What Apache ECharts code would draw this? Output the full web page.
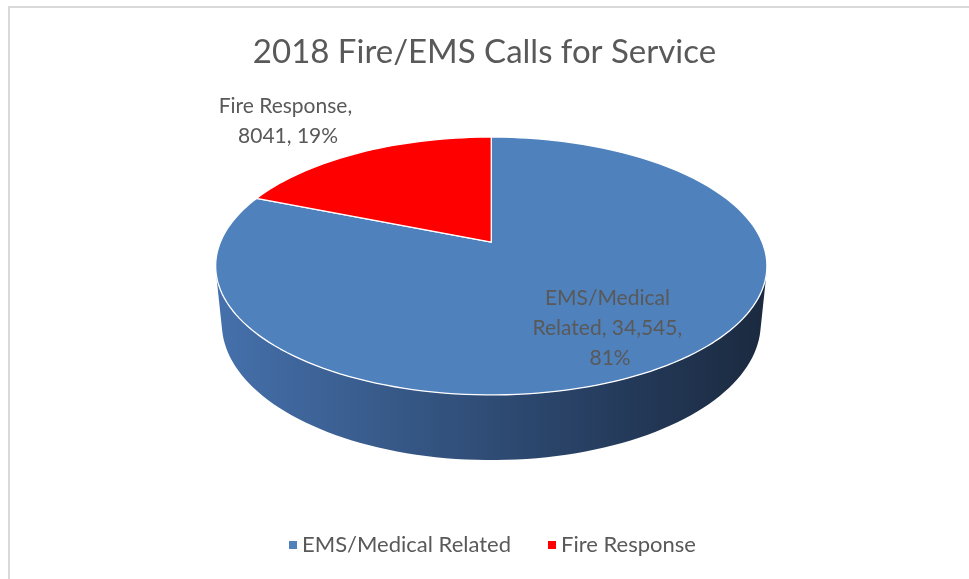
<!DOCTYPE html>
<html><head><meta charset="utf-8">
<script src="https://cdn.jsdelivr.net/npm/echarts@6/dist/echarts.min.js"></script>
<style>html,body{margin:0;padding:0;background:#fff}#c{width:969px;height:579px}</style>
</head><body><div id="c"></div>
<script>
const chartTitle = '2018 Fire/EMS Calls for Service';
const categories = ['EMS/Medical Related', 'Fire Response'];
const values = [34545, 8041];
const valueLabels = ['34,545', '8041'];

const topColors = ['#4f81bd', '#ff0000'];
const sideStops = [
  [[0, '#4570ab'], [0.4, '#33537f'], [0.75, '#243a5a'], [1, '#1b2a40']],
  [[0, '#c00000'], [1, '#600000']]
];
const FONT = 'Lato';
const TXT = '#595959';

const chart = echarts.init(document.getElementById('c'));

// perspective model of a cylinder (unit radius)
const D = 4.8, S = 0.451, C = 0.892, H = 0.235, FX = 1300, FY = 1325;
function proj(cx, cy, X, Y, Z) {
  const depth = D - Y * S - Z * C;
  const up = Y * C - Z * S;
  return [cx + X * FX / depth, cy - up * FY / depth];
}
function rim(cx, cy, phi, Y, r) {
  r = r == null ? 1 : r;
  return proj(cx, cy, r * Math.sin(phi), Y, -r * Math.cos(phi));
}

function makeRender(idx) {
  return function (params, api) {
    const W = api.getWidth(), Hh = api.getHeight();
    const cx = W * 0.507, cy = Hh * 0.418;
    const total = values.reduce((a, b) => a + b, 0);
    const v = api.value(0);
    let cum = 0;
    for (let k = 0; k < idx; k++) cum += values[k];
    const p0 = 2 * Math.PI * cum / total;
    const p1 = 2 * Math.PI * (cum + v) / total;
    const steps = 200;
    const children = [];

    // visible side range (front of cylinder)
    const zt = 1 / (D * C);
    const vs = Math.acos(-zt), ve = 2 * Math.PI - vs;
    const s0 = Math.max(p0, vs), s1 = Math.min(p1, ve);
    const rx = FX / D;
    if (s1 > s0) {
      const pts = [];
      const n = Math.max(2, Math.ceil(steps * (s1 - s0) / (2 * Math.PI)));
      for (let i = 0; i <= n; i++) pts.push(rim(cx, cy, s0 + (s1 - s0) * i / n, 0));
      for (let i = n; i >= 0; i--) pts.push(rim(cx, cy, s0 + (s1 - s0) * i / n, -H));
      children.push({
        type: 'polygon',
        shape: { points: pts },
        style: {
          fill: new echarts.graphic.LinearGradient(cx - rx, 0, cx + rx, 0,
            sideStops[idx].map(s => ({ offset: s[0], color: s[1] })), true),
          stroke: null
        }
      });
    }
    // top face
    const tp = [proj(cx, cy, 0, 0, 0)];
    const n = Math.max(2, Math.ceil(steps * (p1 - p0) / (2 * Math.PI)));
    for (let i = 0; i <= n; i++) tp.push(rim(cx, cy, p0 + (p1 - p0) * i / n, 0));
    children.push({
      type: 'polygon',
      shape: { points: tp },
      style: { fill: topColors[idx], stroke: '#ffffff', lineWidth: 1.3, lineJoin: 'round' }
    });

    // label
    const pct = Math.round(v / total * 100);
    const text = categories[idx] + ', ' + valueLabels[idx] + ', ' + pct + '%';
    const mid = (p0 + p1) / 2;
    const frac = v / total;
    let pos, width;
    if (frac > 0.5) {
      pos = rim(cx, cy, mid, 0, 0.7);
      pos = [pos[0], pos[1] + 5];
      width = 170;
    } else {
      pos = rim(cx, cy, mid, 0, 1.35);
      pos = [pos[0] - 34, pos[1] - 5];
      width = 155;
    }
    children.push({
      type: 'text',
      x: pos[0], y: pos[1],
      style: {
        text: text, width: width, overflow: 'break',
        align: 'center', verticalAlign: 'middle',
        fontFamily: FONT, fontSize: 21, lineHeight: 30, fill: TXT
      }
    });
    return { type: 'group', children: children };
  };
}

chart.setOption({
  backgroundColor: '#ffffff',
  animation: false,
  title: {
    text: chartTitle, left: 'center', top: 31,
    textStyle: { fontFamily: FONT, fontSize: 33, fontWeight: 'normal', color: TXT }
  },
  legend: {
    bottom: 18, left: 284, icon: 'rect', itemWidth: 8, itemHeight: 8, itemGap: 37,
    data: categories,
    textStyle: { fontFamily: FONT, fontSize: 22, color: TXT }
  },
  graphic: [{
    type: 'rect', shape: { x: 9, y: 7, width: 1200, height: 1200 },
    style: { fill: null, stroke: '#d9d9d9', lineWidth: 2 }, silent: true, z: -10
  }],
  series: categories.map((name, i) => ({
    type: 'custom', name: name, coordinateSystem: 'none',
    itemStyle: { color: topColors[i] },
    renderItem: makeRender(i),
    data: [[values[i]]]
  }))
});
</script>
</body></html>
